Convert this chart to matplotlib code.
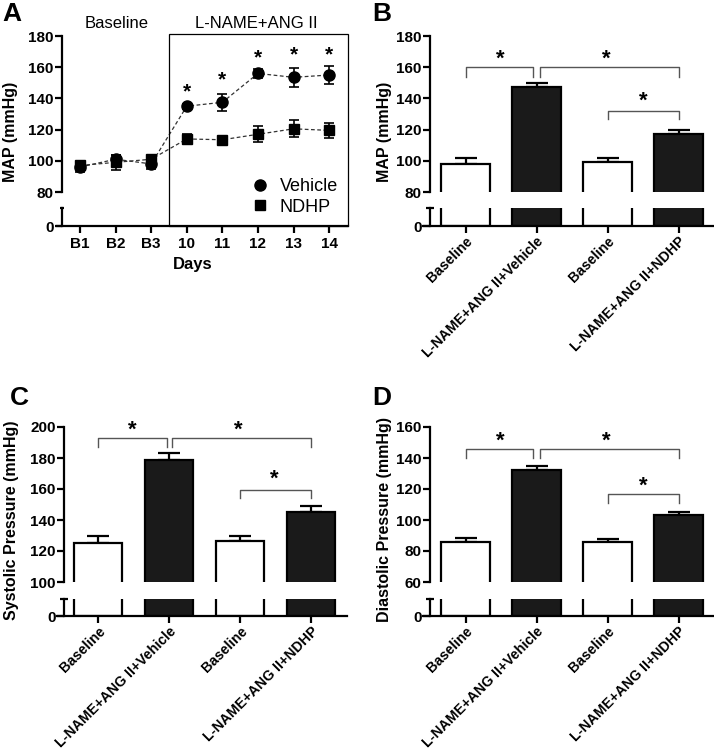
import matplotlib
matplotlib.use("Agg")
import matplotlib.pyplot as plt
from matplotlib.patches import Rectangle
from matplotlib.lines import Line2D

plt.rcParams['font.family'] = ['Liberation Sans', 'DejaVu Sans']

# ---------------- data ----------------
days = ['B1', 'B2', 'B3', '10', '11', '12', '13', '14']
veh_mean = [96, 101, 98, 135, 137.5, 156, 153.5, 155]
veh_err = [3, 3, 3, 1.5, 5.5, 3, 6, 5.5]
ndhp_mean = [97, 99, 101, 114, 113.5, 117, 120.5, 119.5]
ndhp_err = [2, 5, 2, 3, 2, 5, 5.5, 5]
star_days = [3, 4, 5, 6, 7]
star_vals = [144, 152, 166, 168, 168]

bar_labels = ['Baseline', 'L-NAME+ANG II+Vehicle', 'Baseline', 'L-NAME+ANG II+NDHP']
bar_fill = ['white', '#1a1a1a', 'white', '#1a1a1a']

map_mean = [98, 147.5, 99, 117]
map_err = [3.5, 2.5, 2.5, 2.5]
sys_mean = [125, 178.5, 126.5, 145]
sys_err = [4.5, 4.5, 3, 4]
dia_mean = [86, 132.5, 85.5, 103.5]
dia_err = [2.5, 2.5, 2, 1.5]

# brackets: (x1, x2, top, leg)
map_br = [(0, 0.95, 160, 154), (1.05, 3, 160, 154), (2, 3, 132, 127)]
map_st = [(0.49, 165), (1.98, 165), (2.5, 138)]
sys_br = [(0, 0.97, 193, 187), (1.04, 3, 193, 187), (2, 3, 159.5, 154)]
sys_st = [(0.49, 198), (1.97, 198), (2.49, 166)]
dia_br = [(0, 0.95, 146, 140), (1.05, 3, 146, 140), (2, 3, 117, 111)]
dia_st = [(0.49, 151), (1.98, 151), (2.5, 122)]

W, H = 714, 750
fig = plt.figure(figsize=(W / 100, H / 100), dpi=100)

SPW = 1.6
TICKFS = 11


def ax_px(l, t, r, b):
    return fig.add_axes([l / W, 1 - b / H, (r - l) / W, (b - t) / H])


def style_upper(ax, spine_x, ylim, yticks):
    for s in ['top', 'right', 'bottom']:
        ax.spines[s].set_visible(False)
    ax.spines['left'].set_position(('data', spine_x))
    ax.spines['left'].set_linewidth(SPW)
    ax.set_ylim(*ylim)
    ax.set_yticks(yticks)
    ax.set_xticks([])
    ax.tick_params(axis='y', direction='out', length=5, width=SPW, labelsize=TICKFS, pad=1)
    for lab in ax.get_yticklabels():
        lab.set_fontweight('bold')
    ax.patch.set_alpha(0)


def style_lower(ax, spine_x, top, xticks, xlabels, rot):
    for s in ['top', 'right']:
        ax.spines[s].set_visible(False)
    ax.spines['left'].set_position(('data', spine_x))
    ax.spines['left'].set_linewidth(SPW)
    ax.spines['bottom'].set_linewidth(SPW)
    ax.set_ylim(0, top)
    ax.set_yticks([0])
    ax.set_xticks(xticks)
    ax.tick_params(axis='y', direction='out', length=5, width=SPW, labelsize=TICKFS, pad=1)
    if rot:
        ax.tick_params(axis='x', direction='out', length=5, width=SPW, pad=1)
        ax.set_xticklabels(xlabels, rotation=45, ha='right', va='top',
                           rotation_mode='anchor', fontweight='bold', fontsize=10.2)
    else:
        ax.tick_params(axis='x', direction='out', length=5, width=SPW, pad=3)
        ax.set_xticklabels(xlabels, fontweight='bold', fontsize=TICKFS)
    for lab in ax.get_yticklabels():
        lab.set_fontweight('bold')
    ax.plot([spine_x - 0.05, spine_x + 0.05], [top, top], color='black', lw=SPW,
            clip_on=False, solid_capstyle='butt')
    ax.patch.set_alpha(0)


# ---------------- Panel A ----------------
x0, dx = 80, 35.6
xl = ((57 - x0) / dx, (348 - x0) / dx)
spx = (62 - x0) / dx
axA = ax_px(57, 36, 348, 192)
axA2 = ax_px(57, 208, 348, 226)
xs = list(range(len(days)))
for a in (axA, axA2):
    a.set_xlim(*xl)
style_upper(axA, spx, (80, 180), [80, 100, 120, 140, 160, 180])
style_lower(axA2, spx, 11.5, xs, days, False)

axA.errorbar(xs, veh_mean, yerr=veh_err, fmt='o', color='black', ms=8,
             capsize=3.5, elinewidth=1.2, capthick=1.2, zorder=3)
axA.errorbar(xs, ndhp_mean, yerr=ndhp_err, fmt='s', color='black', ms=7.5,
             capsize=3.5, elinewidth=1.2, capthick=1.2, zorder=3)
axA.plot(xs, veh_mean, ls=(0, (3, 2)), color='#333333', lw=0.9, zorder=2)
axA.plot(xs, ndhp_mean, ls=(0, (3, 2)), color='#333333', lw=0.9, zorder=2)
for d, v in zip(star_days, star_vals):
    axA.text(d, v, '*', ha='center', va='center', fontsize=15, fontweight='bold')

# treatment box
bx = x0 + dx * 2.5
fig.add_artist(Rectangle((bx / W, 1 - 226 / H), (348 - bx) / W, (226 - 34) / H,
                         transform=fig.transFigure, fill=False, ec='black', lw=0.9))
fig.text(117 / W, 1 - 24 / H, 'Baseline', ha='center', va='center', fontsize=12)
fig.text(256 / W, 1 - 24 / H, 'L-NAME+ANG II', ha='center', va='center', fontsize=12)
fig.text(193 / W, 1 - 265 / H, 'Days', ha='center', va='center', fontsize=12, fontweight='bold')
fig.text(11 / W, 1 - 132 / H, 'MAP (mmHg)', ha='center', va='center', rotation=90,
         fontsize=11.5, fontweight='bold')

handles = [Line2D([], [], marker='o', ls='none', color='black', ms=8),
           Line2D([], [], marker='s', ls='none', color='black', ms=7.5)]
fig.legend(handles, ['Vehicle', 'NDHP'], loc='center left',
           bbox_to_anchor=(233 / W, 1 - 197 / H), frameon=False, fontsize=13,
           handletextpad=0.5, labelspacing=0.2, handlelength=1.2)


# ---------------- Bar panels ----------------
def bar_panel(l, t, r, b, lt, lb, c0, ylim, yticks, means, errs, brs, sts, ylabel, lx, ly, ltop):
    dxb = 71
    xlim = ((l - c0) / dxb, (r - c0) / dxb)
    sp = (l + 7 - c0) / dxb
    au = ax_px(l, t, r, b)
    al = ax_px(l, lt, r, lb)
    for a in (au, al):
        a.set_xlim(*xlim)
    style_upper(au, sp, ylim, yticks)
    style_lower(al, sp, ltop, [0, 1, 2, 3], bar_labels, True)
    pos = [0, 1, 2, 3]
    for a in (au, al):
        a.bar(pos, means, width=0.68, color=bar_fill, edgecolor='black', linewidth=1.6, zorder=2)
    au.errorbar(pos, means, yerr=[[0] * 4, errs], fmt='none', ecolor='black',
                elinewidth=1.6, capsize=8, capthick=1.6, zorder=1)
    for (x1, x2, top, leg) in brs:
        au.plot([x1, x1, x2, x2], [leg, top, top, leg], color='#555555', lw=1.0, zorder=3)
    for (x, y) in sts:
        au.text(x, y, '*', ha='center', va='center', fontsize=16, fontweight='bold')
    fig.text(lx / W, 1 - ly / H, ylabel, ha='center', va='center', rotation=90,
             fontsize=11.5, fontweight='bold')


bar_panel(423, 36, 713, 192, 208, 226, 465.5, (80, 180), [80, 100, 120, 140, 160, 180],
          map_mean, map_err, map_br, map_st, 'MAP (mmHg)', 385, 132, 11.5)
bar_panel(57, 427, 347, 582, 599, 616, 98, (100, 200), [100, 120, 140, 160, 180, 200],
          sys_mean, sys_err, sys_br, sys_st, 'Systolic Pressure (mmHg)', 12, 520, 11)
bar_panel(423, 427, 713, 582, 599, 616, 465.5, (60, 160), [60, 80, 100, 120, 140, 160],
          dia_mean, dia_err, dia_br, dia_st, 'Diastolic Pressure (mmHg)', 385, 520, 11)

# panel letters
for letter, px, py in [('A', 2, 2), ('B', 372, 2), ('C', 10, 386), ('D', 372, 386)]:
    fig.text(px / W, 1 - py / H, letter, ha='left', va='top', fontsize=19, fontweight='bold')

fig.savefig('out.png', dpi=100)
